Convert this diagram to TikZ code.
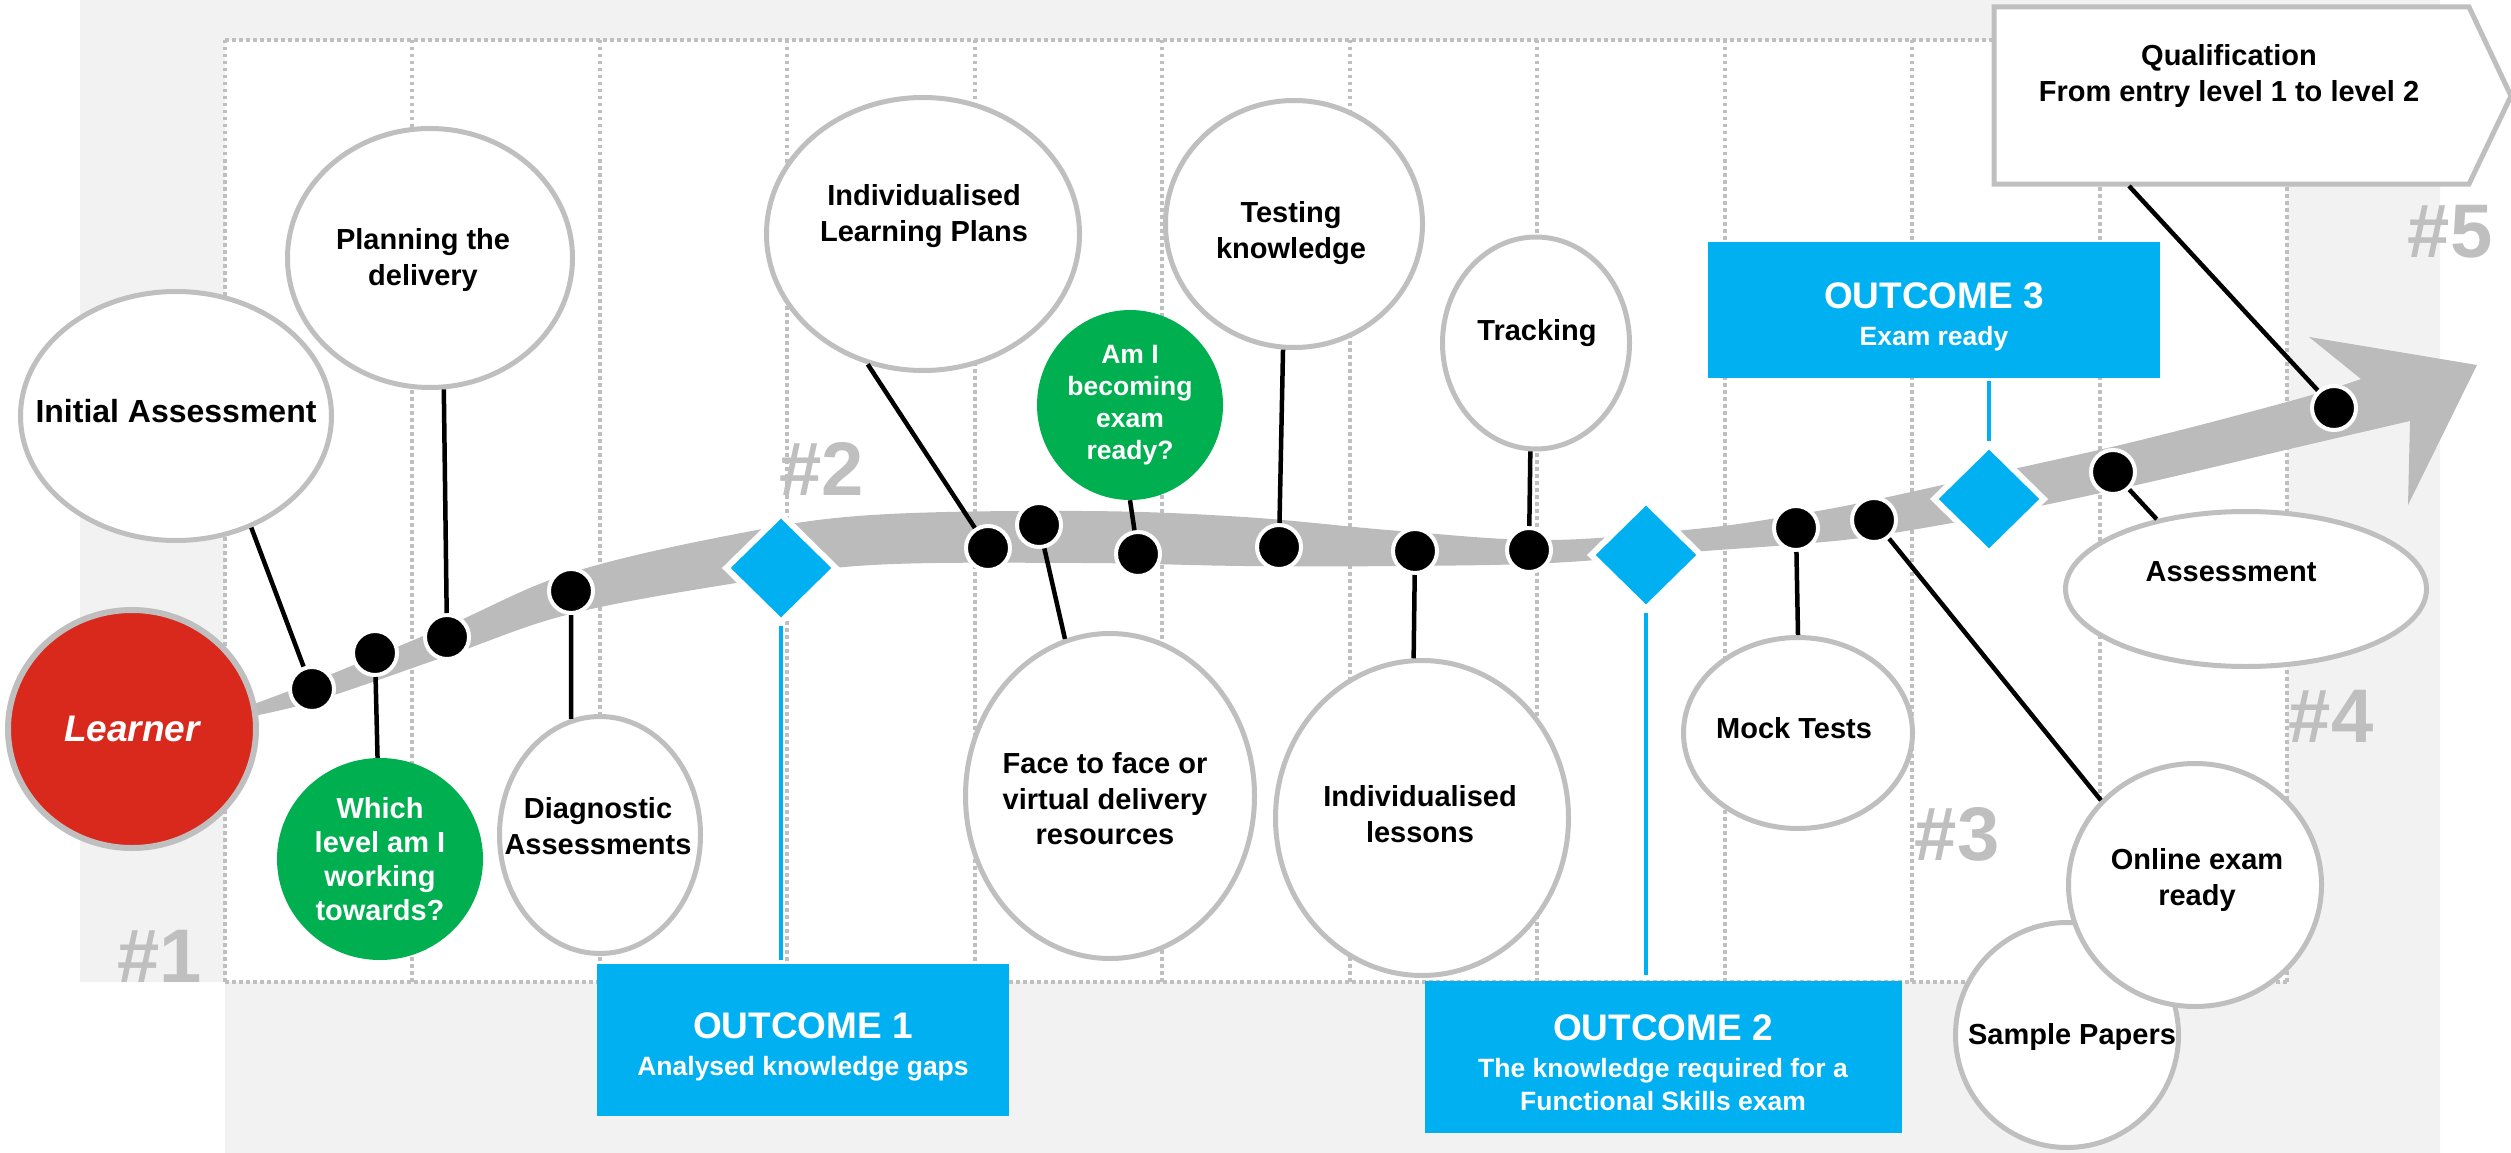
\documentclass[tikz,border=0pt]{standalone}
\usepackage{fontspec}
\setmainfont{Liberation Sans}
\usepackage{tikz}
\usetikzlibrary{calc}
\usetikzlibrary{shapes.geometric}

\definecolor{bggray}{HTML}{F2F2F2}
\definecolor{linegray}{HTML}{BFBFBF}
\definecolor{bandgray}{HTML}{BBBBBB}
\definecolor{outblue}{HTML}{00B0F0}
\definecolor{askgreen}{HTML}{00B050}
\definecolor{learnred}{HTML}{D9291C}

\begin{document}
\begin{tikzpicture}[x=1pt, y=-1pt,
  colline/.style={linegray, line width=4pt, dash pattern=on 3.5pt off 3.5pt},
  bubble/.style={ellipse, draw=linegray, line width=5pt, fill=white, inner sep=0pt},
  lbl/.style={font=\fontsize{29}{35.5}\selectfont\bfseries, align=center, inner sep=0pt},
  ask/.style={ellipse, fill=askgreen, text=white, align=center, inner sep=0pt, font=\fontsize{29}{34}\selectfont\bfseries},
  stop/.style={circle, fill=black, draw=white, line width=4pt, minimum size=44pt, inner sep=0pt},
  mile/.style={diamond, fill=outblue, draw=white, line width=6pt, minimum width=112pt, minimum height=110pt, inner sep=0pt},
  outbox/.style={rectangle, fill=outblue, text=white, align=center, inner sep=0pt, font=\fontsize{26.5}{33}\selectfont\bfseries},
  stem/.style={black, line width=4.5pt},
  bluestem/.style={outblue, line width=4.5pt},
  bignum/.style={linegray, font=\fontsize{76}{76}\selectfont\bfseries, inner sep=0pt}]

\useasboundingbox (0,0) rectangle (2511,1153);

% background and columns
\fill[bggray] (80,0) -- (2440,0) -- (2440,1153) -- (225,1153) -- (225,982) -- (80,982) -- cycle;
\fill[white] (225,40) rectangle (2287,982);
\foreach \i in {0,...,11}
  \draw[colline] ({225+187.45*\i},40) -- ++(0,942);
\draw[colline] (225,40) -- (2287,40);
\draw[colline] (225,982) -- (2287,982);

\foreach \k/\x/\y in {1/160/956, 2/822/469, 3/1957/834, 4/2331/716, 5/2450/232}
  \node[bignum] (n\k) at (\x,\y) {\#\k};

% grey arrow
\fill[bandgray] plot[smooth, tension=.6] coordinates {(232,712) (312,682) (447,626) (570,573) (736,534) (872,515) (1083,511) (1244,517) (1400,531) (1550,540) (1705,528) (1800,514) (1874,500) (2000,472) (2141,440) (2294,400) (2361,379)}
  -- (2309,337) -- (2477,365) -- (2408,505) -- (2410,421)
  -- plot[smooth, tension=.6] coordinates {(2410,421) (2294,448) (2141,484) (2000,514) (1874,536) (1800,544) (1705,551) (1550,563) (1400,566) (1244,566) (1083,563) (872,565) (736,583) (570,614) (447,656) (312,702) (232,720)} -- cycle;

\node[ellipse, fill=learnred, draw=linegray, line width=6pt, minimum width=248pt, minimum height=238pt, text=white, font=\fontsize{37}{40}\selectfont\bfseries\itshape] (learner) at (132,729) {Learner};

% stops on the arrow
\foreach \n/\x/\y in {1/312/689, 2/375/653, 3/447/637, 4/571/591, 5/988/548, 6/1039/525, 7/1138/554, 8/1279/547, 9/1415/551, 10/1529/550, 11/1796/528, 12/1874/520, 13/2113/472, 14/2334/408}
  \node[stop] (s\n) at (\x,\y) {};

\node[mile] (m1) at (781,568) {};
\node[mile] (m2) at (1646,555) {};
\node[mile] (m3) at (1989,499) {};

% bubbles
\foreach \n/\x/\y/\w/\h/\tx/\ty/\t in {
  ia/176/416/311/249/176/411/{\fontsize{32}{36}\selectfont Initial Assessment},
  pd/430/258/285/259/423/260/{Planning the\\delivery},
  da/600/835/201/237/598/826/{Diagnostic\\Assessments},
  ilp/923/234/313/273/924/216/{Individualised\\Learning Plans},
  tk/1294/224/257/247/1291/233/{Testing\\knowledge},
  tr/1536/343/187/212/1537/333/{Tracking},
  ff/1110/796/289/325/1105/799/{Face to face or\\virtual delivery\\resources},
  il/1422/818/293/315/1420/814/{Individualised\\lessons},
  mt/1798/733/229/191/1794/728/{Mock Tests},
  sp/2067/1035/223/225/2072/1037/{Sample Papers},
  oe/2195/885/253/243/2197/880/{Online exam\\ready},
  as/2246/589/361/155/2231/572/{Assessment}}
{
  \node[bubble, minimum width=\w*1pt, minimum height=\h*1pt] (\n) at (\x,\y) {};
  \node[lbl] (\n-t) at (\tx,\ty) {\t};
}

\node[ask, minimum width=206pt, minimum height=202pt] (wl) at (380,859) {Which\\level am I\\working\\towards?};
\node[ask, minimum width=186pt, minimum height=190pt, font=\fontsize{26.5}{32}\selectfont\bfseries] (ai) at (1130,405) {Am I\\becoming\\exam\\ready?};

% qualification
\draw[linegray, line width=5pt, fill=white] (1994,7) -- (2469,7) -- (2511,96) -- (2469,184) -- (1994,184) -- cycle;
\node[lbl] (qu) at (2229,76) {Qualification\\From entry level 1 to level 2};
\coordinate (qu-tail) at (2129,186);

% connectors
\foreach \a/\b in {ia.-56/s1, s2/wl, pd.-84/s3, s4/da.104, ilp.-113/s5, s6/ff.106, ai.south/s7, tk.-95/s8, s9/il.93, tr.-93/s10, s11/mt.north, s12/oe.138, s13/as.142, qu-tail/s14}
  \draw[stem] (\a) -- (\b);

% outcomes
\node[outbox, minimum width=412pt, minimum height=152pt] (o1) at (803,1040) {{\fontsize{37}{40}\selectfont\rule{0pt}{39pt}OUTCOME 1}\\[4pt]Analysed knowledge gaps};
\node[outbox, minimum width=477pt, minimum height=152pt] (o2) at (1663,1057) {{\fontsize{37}{40}\selectfont\rule{0pt}{37pt}OUTCOME 2}\\[4pt]The knowledge required for a\\Functional Skills exam};
\node[outbox, minimum width=452pt, minimum height=136pt] (o3) at (1934,310) {{\fontsize{37}{40}\selectfont\rule{0pt}{39pt}OUTCOME 3}\\[4pt]Exam ready};

\draw[bluestem, shorten >=4pt] (m1.south) -- (m1.south |- o1.north);
\draw[bluestem, shorten >=6pt] (m2.south) -- (m2.south |- o2.north);
\draw[bluestem, shorten >=3pt] (m3.north) -- (m3.north |- o3.south);

\end{tikzpicture}
\end{document}
